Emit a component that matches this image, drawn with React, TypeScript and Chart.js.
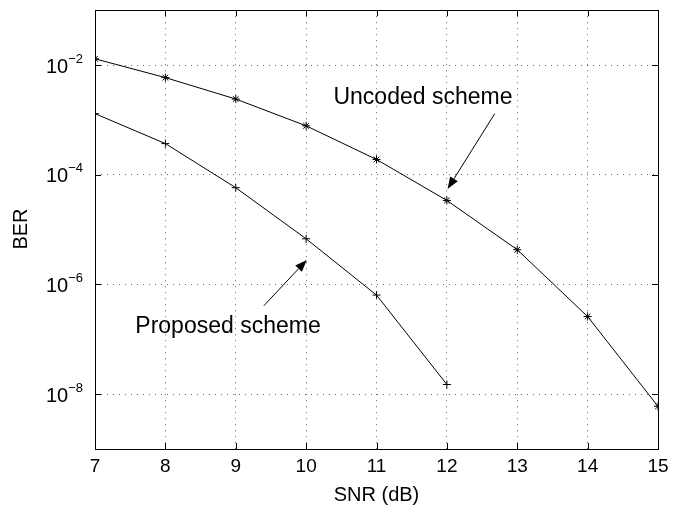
import React, { useEffect, useRef } from "react";
import { Chart, registerables } from "chart.js";

Chart.register(...registerables);

const snr = [7, 8, 9, 10, 11, 12, 13, 14, 15];
const uncodedBer = [1.3e-2, 5.9e-3, 2.4e-3, 7.8e-4, 1.9e-4, 3.4e-5, 4.3e-6, 2.6e-7, 6.0e-9];
const proposedBer = [1.3e-3, 3.7e-4, 5.8e-5, 6.8e-6, 6.4e-7, 1.5e-8];
const yTickExponents = [-8, -6, -4, -2];
const xTicks = [7, 8, 9, 10, 11, 12, 13, 14, 15];

const uncodedLabel = "Uncoded scheme";
const proposedLabel = "Proposed scheme";
// annotation anchors in data coordinates: [x, y]
const uncodedText = [11.66, 2.5e-3];
const uncodedArrow = [[12.68, 1.3e-3], [12.01, 5.5e-5]];
const proposedText = [8.89, 1.73e-7];
const proposedArrow = [[9.4, 4.1e-7], [10.01, 2.8e-6]];

const FONT = '"Liberation Sans", Arial, Helvetica, sans-serif';

function drawArrow(ctx: CanvasRenderingContext2D, x1: number, y1: number, x2: number, y2: number) {
  const ang = Math.atan2(y2 - y1, x2 - x1);
  const headLen = 12;
  const headW = 4.5;
  ctx.save();
  ctx.strokeStyle = "#000";
  ctx.fillStyle = "#000";
  ctx.lineWidth = 1;
  const bx = x2 - Math.cos(ang) * headLen;
  const by = y2 - Math.sin(ang) * headLen;
  ctx.beginPath();
  ctx.moveTo(x1, y1);
  ctx.lineTo(bx, by);
  ctx.stroke();
  ctx.beginPath();
  ctx.moveTo(x2, y2);
  ctx.lineTo(bx + Math.sin(ang) * headW, by - Math.cos(ang) * headW);
  ctx.lineTo(bx - Math.sin(ang) * headW, by + Math.cos(ang) * headW);
  ctx.closePath();
  ctx.fill();
  ctx.restore();
}

const decorPlugin = {
  id: "decor",
  afterDraw(chart: any) {
    const ctx: CanvasRenderingContext2D = chart.ctx;
    const { left, right, top, bottom } = chart.chartArea;
    const xs = chart.scales.x;
    const ys = chart.scales.y;
    ctx.save();
    // box
    ctx.strokeStyle = "#000";
    ctx.lineWidth = 1;
    ctx.strokeRect(Math.round(left) + 0.5, Math.round(top) + 0.5, Math.round(right - left), Math.round(bottom - top));
    // inward tick marks on all four sides
    ctx.beginPath();
    const tl = 6;
    for (const e of yTickExponents) {
      const y = Math.round(ys.getPixelForValue(Math.pow(10, e))) + 0.5;
      ctx.moveTo(left, y);
      ctx.lineTo(left + tl, y);
      ctx.moveTo(right, y);
      ctx.lineTo(right - tl, y);
    }
    for (const v of xTicks) {
      const x = Math.round(xs.getPixelForValue(v)) + 0.5;
      ctx.moveTo(x, bottom);
      ctx.lineTo(x, bottom - tl);
      ctx.moveTo(x, top);
      ctx.lineTo(x, top + tl);
    }
    ctx.stroke();
    // y tick labels with superscript exponents
    ctx.fillStyle = "#000";
    for (const e of yTickExponents) {
      const y = ys.getPixelForValue(Math.pow(10, e));
      const expStr = "\u2212" + String(Math.abs(e));
      ctx.font = `13px ${FONT}`;
      const expW = ctx.measureText(expStr).width;
      const expRight = left - 12;
      ctx.textAlign = "left";
      ctx.textBaseline = "middle";
      ctx.fillText(expStr, expRight - expW, y - 6);
      ctx.font = `20px ${FONT}`;
      ctx.textAlign = "right";
      ctx.fillText("10", expRight - expW, y + 2);
    }
    // axis titles
    ctx.font = `20px ${FONT}`;
    ctx.textAlign = "center";
    ctx.textBaseline = "middle";
    ctx.fillText("SNR (dB)", (left + right) / 2, 495);
    ctx.save();
    ctx.translate(21, 229);
    ctx.rotate(-Math.PI / 2);
    ctx.fillText("BER", 0, 0);
    ctx.restore();
    // annotations
    ctx.font = `23px ${FONT}`;
    ctx.fillText(uncodedLabel, xs.getPixelForValue(uncodedText[0]), ys.getPixelForValue(uncodedText[1]));
    ctx.fillText(proposedLabel, xs.getPixelForValue(proposedText[0]), ys.getPixelForValue(proposedText[1]));
    drawArrow(
      ctx,
      xs.getPixelForValue(uncodedArrow[0][0]), ys.getPixelForValue(uncodedArrow[0][1]),
      xs.getPixelForValue(uncodedArrow[1][0]), ys.getPixelForValue(uncodedArrow[1][1])
    );
    drawArrow(
      ctx,
      xs.getPixelForValue(proposedArrow[0][0]), ys.getPixelForValue(proposedArrow[0][1]),
      xs.getPixelForValue(proposedArrow[1][0]), ys.getPixelForValue(proposedArrow[1][1])
    );
    ctx.restore();
  },
};

export default function App() {
  const ref = useRef<HTMLCanvasElement>(null);
  useEffect(() => {
    document.body.style.margin = "0";
    const canvas = ref.current!;
    const chart = new Chart(canvas, {
      type: "line",
      data: {
        datasets: [
          {
            label: uncodedLabel,
            data: snr.map((x, i) => ({ x, y: uncodedBer[i] })),
            borderColor: "#000",
            backgroundColor: "#000",
            borderWidth: 1,
            pointStyle: "star",
            pointRadius: 4,
            pointBorderWidth: 1,
            pointBorderColor: "#000",
            tension: 0,
          },
          {
            label: proposedLabel,
            data: proposedBer.map((y, i) => ({ x: snr[i], y })),
            borderColor: "#000",
            backgroundColor: "#000",
            borderWidth: 1,
            pointStyle: "cross",
            pointRadius: 4,
            pointBorderWidth: 1,
            pointBorderColor: "#000",
            tension: 0,
          },
        ],
      },
      options: {
        animation: false,
        responsive: false,
        layout: { padding: { top: 3, right: 36, left: 0, bottom: 0 } },
        plugins: { legend: { display: false }, tooltip: { enabled: false } },
        scales: {
          x: {
            type: "linear",
            min: 7,
            max: 15,
            afterBuildTicks: (s: any) => {
              s.ticks = xTicks.map((v) => ({ value: v }));
            },
            afterFit: (s: any) => {
              s.height = 61;
            },
            grid: { color: "#666", drawTicks: false },
            border: { display: false, dash: [1, 5] },
            ticks: {
              padding: 6,
              color: "#000",
              font: { family: FONT, size: 19 },
              maxRotation: 0,
            },
          },
          y: {
            type: "logarithmic",
            min: 1e-9,
            max: 1e-1,
            afterBuildTicks: (s: any) => {
              s.ticks = yTickExponents.map((e) => ({ value: Math.pow(10, e) }));
            },
            afterFit: (s: any) => {
              s.width = 95;
            },
            grid: { color: "#666", drawTicks: false },
            border: { display: false, dash: [1, 5] },
            ticks: { display: true, callback: () => "" },
          },
        },
      },
      plugins: [decorPlugin],
    });
    return () => chart.destroy();
  }, []);
  return (
    <div style={{ width: 694, height: 510 }}>
      <canvas ref={ref} width={694} height={510} style={{ display: "block" }} />
    </div>
  );
}
